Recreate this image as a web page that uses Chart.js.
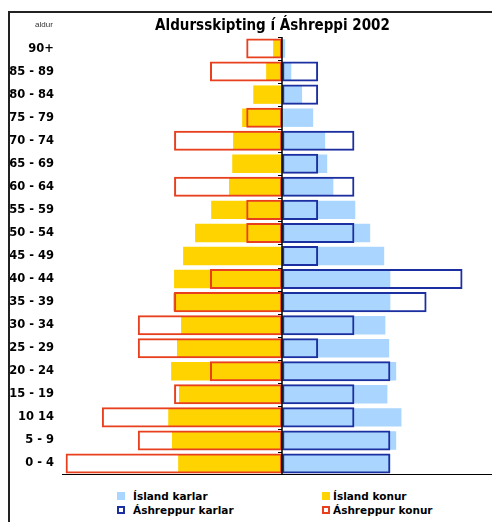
<!DOCTYPE html>
<html>
<head>
<meta charset="utf-8">
<script src="https://cdn.jsdelivr.net/npm/chart.js@4.4.1/dist/chart.umd.min.js"></script>
<style>
  html, body { margin: 0; padding: 0; background: #fff; width: 492px; height: 522px; overflow: hidden; }
  #frameTop { position: absolute; left: 8px; top: 11px; width: 484px; height: 2px; background: #222; }
  #frameLeft { position: absolute; left: 8px; top: 11px; width: 2px; height: 511px; background: #222; }
  #clip { position: absolute; left: 10px; top: 13px; width: 482px; height: 462px; overflow: hidden; }
  #wrap { position: absolute; left: 0; top: 0; width: 525px; height: 462px; }
  #aldur { position: absolute; left: 35px; top: 20px; font: 8px "Liberation Sans", Arial, sans-serif; color: #333; }
  .leg { position: absolute; font: bold 10.5px "DejaVu Sans", sans-serif; color: #000; white-space: nowrap; line-height: 12px; }
  .box { position: absolute; width: 8px; height: 8px; box-sizing: border-box; }
</style>
</head>
<body>
<div id="frameTop"></div>
<div id="frameLeft"></div>
<div id="clip"><div id="wrap"><canvas id="pyramid"></canvas></div></div>
<div id="aldur">aldur</div>
<div id="legend"></div>
<script>
// aldursflokkar, efst til neðst
const aldursflokkar = ['90+', '85 - 89', '80 - 84', '75 - 79', '70 - 74', '65 - 69', '60 - 64', '55 - 59',
  '50 - 54', '45 - 49', '40 - 44', '35 - 39', '30 - 34', '25 - 29', '20 - 24', '15 - 19', '10 14', '5 - 9', '0 - 4'];

// hlutfall (%) af heildarfjölda
const islandKarlar = [0.10, 0.31, 0.68, 1.06, 1.47, 1.54, 1.75, 2.50, 3.01, 3.49, 3.70, 3.70, 3.53, 3.66, 3.90, 3.60, 4.08, 3.90, 3.70];
const islandKonur = [0.31, 0.55, 0.99, 1.37, 1.68, 1.71, 1.82, 2.43, 2.98, 3.39, 3.70, 3.73, 3.46, 3.60, 3.80, 3.53, 3.90, 3.77, 3.56];
const ashreppurKarlar = [0, 1.23, 1.23, 0, 2.47, 1.23, 2.47, 1.23, 2.47, 1.23, 6.17, 4.94, 2.47, 1.23, 3.70, 2.47, 2.47, 3.70, 3.70];
const ashreppurKonur = [1.23, 2.47, 0, 1.23, 3.70, 0, 3.70, 1.23, 1.23, 0, 2.47, 3.70, 4.94, 4.94, 2.47, 3.70, 6.17, 4.94, 7.41];

const LJOSBLAR = '#a9d5fe';
const GULUR = '#ffd300';
const DOKKBLAR = '#1c2fa0';
const RAUDUR = '#e8401e';

// lóðréttur núll-ás með litlum merkjum milli aldursflokka
const nullAs = {
  id: 'nullAs',
  afterDatasetsDraw(chart) {
    const { ctx, chartArea, scales: { x, y } } = chart;
    const x0 = Math.round(x.getPixelForValue(0));
    const half = (y.getPixelForTick(1) - y.getPixelForTick(0)) / 2;
    ctx.save();
    ctx.strokeStyle = '#000';
    ctx.lineWidth = 1.5;
    ctx.beginPath();
    ctx.moveTo(x0, chartArea.top);
    ctx.lineTo(x0, chartArea.bottom);
    ctx.stroke();
    ctx.lineWidth = 1;
    ctx.beginPath();
    for (let i = 0; i < y.ticks.length; i++) {
      const yy = Math.round(y.getPixelForTick(i) - half) + 0.5;
      ctx.moveTo(x0 - 4, yy);
      ctx.lineTo(x0, yy);
    }
    ctx.stroke();
    ctx.restore();
  }
};

const ctx = document.getElementById('pyramid');
const chart = new Chart(ctx, {
  type: 'bar',
  data: {
    labels: aldursflokkar,
    datasets: [
      {
        label: 'Áshreppur karlar', data: ashreppurKarlar,
        backgroundColor: 'rgba(0,0,0,0)', borderColor: DOKKBLAR, borderWidth: 2, borderSkipped: false,
        barPercentage: 0.87, categoryPercentage: 1, grouped: false, order: 0
      },
      {
        label: 'Áshreppur konur', data: ashreppurKonur.map(v => -v),
        backgroundColor: 'rgba(0,0,0,0)', borderColor: RAUDUR, borderWidth: 2, borderSkipped: false,
        barPercentage: 0.87, categoryPercentage: 1, grouped: false, order: 0
      },
      {
        label: 'Ísland karlar', data: islandKarlar,
        backgroundColor: LJOSBLAR, borderWidth: 0,
        barPercentage: 0.8, categoryPercentage: 1, grouped: false, order: 1
      },
      {
        label: 'Ísland konur', data: islandKonur.map(v => -v),
        backgroundColor: GULUR, borderWidth: 0,
        barPercentage: 0.8, categoryPercentage: 1, grouped: false, order: 1
      }
    ]
  },
  options: {
    indexAxis: 'y',
    responsive: true,
    maintainAspectRatio: false,
    animation: false,
    layout: { padding: 0 },
    plugins: {
      legend: { display: false },
      tooltip: { enabled: false },
      title: {
        display: true,
        text: 'Aldursskipting í Áshreppi 2002',
        color: '#000',
        font: { family: '"DejaVu Sans Condensed", "DejaVu Sans"', size: 15, weight: 'bold' },
        padding: { top: 4, bottom: 2 }
      }
    },
    scales: {
      x: {
        // kvarðinn nær út fyrir myndina hægra megin, eins og í frumritinu
        type: 'linear', min: -7.5, max: 8.65,
        ticks: { display: false },
        grid: { display: false, drawTicks: false },
        border: { color: '#000', width: 1.5 },
        afterFit: s => { s.height = 0; }
      },
      y: {
        type: 'category', position: 'left', offset: true,
        grid: { display: false, drawTicks: false },
        border: { display: false },
        ticks: { color: '#000', padding: 9, font: { family: 'DejaVu Sans', size: 11.5, weight: 'bold' } },
        afterFit: s => { s.width = 53; s.paddingTop = 0; s.paddingBottom = 0; }
      }
    }
  },
  plugins: [nullAs]
});

// skýringar (legend) í tveimur dálkum eins og í Excel
const legendItems = [
  { ds: 2, x: 117, tx: 133, y: 492 },
  { ds: 3, x: 322, tx: 333, y: 492 },
  { ds: 0, x: 117, tx: 133, y: 506 },
  { ds: 1, x: 322, tx: 333, y: 506 }
];
const legend = document.getElementById('legend');
legendItems.forEach(it => {
  const d = chart.data.datasets[it.ds];
  const box = document.createElement('div');
  box.className = 'box';
  box.style.left = it.x + 'px';
  box.style.top = it.y + 'px';
  if (d.borderWidth) {
    box.style.border = '2px solid ' + d.borderColor;
    box.style.background = '#fff';
  } else {
    box.style.background = d.backgroundColor;
  }
  const txt = document.createElement('div');
  txt.className = 'leg';
  txt.style.left = it.tx + 'px';
  txt.style.top = (it.y - 2) + 'px';
  txt.textContent = d.label;
  legend.appendChild(box);
  legend.appendChild(txt);
});
</script>
</body>
</html>
